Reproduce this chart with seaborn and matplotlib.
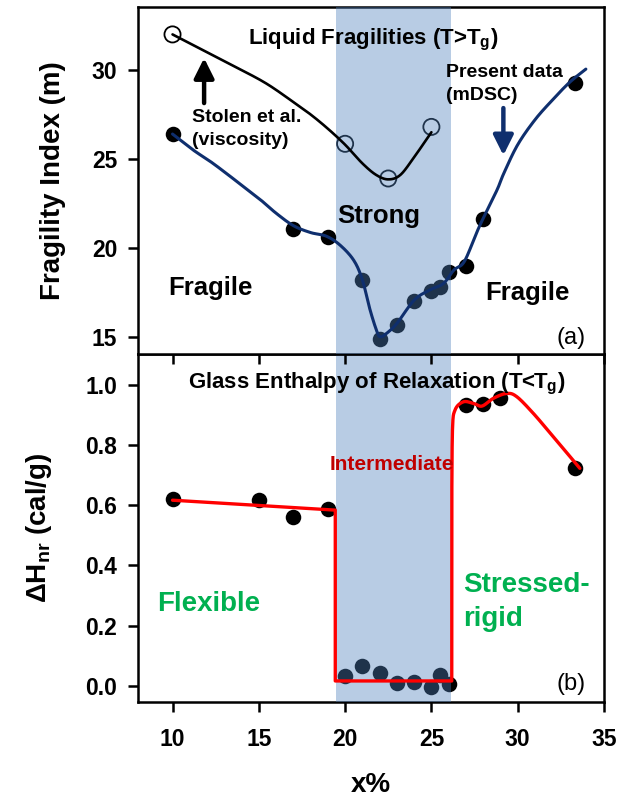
"""
Fragility index and non-reversing enthalpy vs composition x%
two stacked panels sharing the x axis, intermediate phase shaded
"""

import numpy as np
import matplotlib
matplotlib.use('Agg')
import matplotlib.pyplot as plt
import seaborn as sns

# ---- data ----
# (a) fragility index m, present mDSC data
frag_x = [10, 17, 19, 21, 22, 23, 24, 25, 25.5, 26, 27, 28, 33.3]
frag_m = [26.4, 21.05, 20.6, 18.2, 14.9, 15.65, 17.0, 17.6, 17.8, 18.65, 19.0, 21.65, 29.25]

# (a) Stolen et al. viscosity data
stolen_x = [10, 20, 22.5, 25]
stolen_m = [32.0, 25.85, 23.9, 26.8]

# guide curves drawn through the data
frag_fit_x = [10, 11.2, 12.2, 13.1, 14.1, 15.1, 16.0, 17.0, 18.0, 18.9, 19.7, 20.5, 21.0,
              21.45, 21.85, 22.05, 22.4, 23.0, 24.0, 24.9, 25.7, 26.3, 26.9, 27.6, 28.0,
              28.8, 29.2, 30.0, 31.0, 32.0, 33.0, 33.95]
frag_fit_m = [26.4, 25.5, 24.85, 24.2, 23.45, 22.7, 21.95, 21.25, 20.86, 20.66, 20.16,
              19.3, 18.2, 16.5, 15.28, 15.0, 15.19, 15.75, 17.06, 17.63, 18.0, 18.75,
              19.22, 20.81, 21.66, 23.25, 24.2, 25.8, 27.2, 28.3, 29.3, 30.05]
stolen_fit_x = [10, 12, 14, 15.5, 17, 18, 19, 20, 21, 21.8, 22.5, 23.2, 24, 25]
stolen_fit_m = [32.0, 31.0, 30.0, 29.2, 28.2, 27.5, 26.7, 25.8, 24.75, 24.1, 23.85,
                24.1, 25.1, 26.5]

# (b) non-reversing enthalpy of relaxation
dh_x = [10, 15, 17, 19, 20, 21, 22, 23, 24, 25, 25.5, 26, 27, 28, 29, 33.3]
dh = [0.62, 0.618, 0.56, 0.587, 0.032, 0.065, 0.044, 0.01, 0.013, -0.003, 0.035, 0.006,
      0.933, 0.936, 0.956, 0.725]

# red guide line: square well, then rounded top in the stressed-rigid phase
dh_fit_x = [10, 19.43, 19.43, 26.18, 26.18, 26.22, 26.37, 26.85, 27.43, 27.93, 28.6,
            29.37, 29.95, 30.9, 31.9, 32.87, 33.6]
dh_fit = [0.617, 0.584, 0.016, 0.016, 0.6, 0.85, 0.917, 0.944, 0.939, 0.930, 0.956,
          0.972, 0.961, 0.906, 0.839, 0.773, 0.723]
n_straight = 5  # first knots of the red line are joined by straight segments

ip_window = (19.5, 26.15)  # intermediate phase (shaded)


def catmull_rom(xs, ys, n=20):
    """smooth a polyline through its knots (uniform Catmull-Rom)"""
    pts = np.column_stack([xs, ys]).astype(float)
    pts = np.vstack([pts[0], pts, pts[-1]])
    t = np.linspace(0, 1, n, endpoint=False)[:, None]
    segs = []
    for i in range(1, len(pts) - 2):
        p0, p1, p2, p3 = pts[i - 1], pts[i], pts[i + 1], pts[i + 2]
        segs.append(0.5 * (2 * p1 + (-p0 + p2) * t
                           + (2 * p0 - 5 * p1 + 4 * p2 - p3) * t ** 2
                           + (-p0 + 3 * p1 - 3 * p2 + p3) * t ** 3))
    segs.append(pts[-2][None, :])
    out = np.vstack(segs)
    return out[:, 0], out[:, 1]


sns.set_theme(style='ticks')
plt.rcParams['font.family'] = ['Liberation Sans', 'DejaVu Sans']
plt.rcParams['font.weight'] = 'bold'
plt.rcParams['mathtext.fontset'] = 'custom'
plt.rcParams['mathtext.rm'] = 'Liberation Sans:bold'
plt.rcParams['mathtext.default'] = 'rm'
for key in ('text.color', 'axes.labelcolor', 'xtick.color', 'ytick.color'):
    plt.rcParams[key] = 'black'

SHADE = '#4f81bd'
NAVY = '#0f2f6e'
GREEN = '#00b050'

fig = plt.figure(figsize=(6.31, 7.99), dpi=100)
ax1 = fig.add_axes([0.2187, 0.5569, 0.7385, 0.4343])
ax2 = fig.add_axes([0.2187, 0.1214, 0.7385, 0.4355])
ax1.set_zorder(3)

for ax in (ax1, ax2):
    ax.axvspan(*ip_window, color=SHADE, alpha=0.4, lw=0, zorder=3)
    ax.set_xlim(8, 35)
    ax.set_xticks([10, 15, 20, 25, 30, 35])
    for sp in ax.spines.values():
        sp.set_linewidth(1.8)
        sp.set_color('black')
    ax.tick_params(direction='out', length=7, width=1.8, color='black',
                   labelsize=16.5, pad=8, top=False, right=False)

# ---- (a) liquid fragilities ----
sns.scatterplot(x=frag_x, y=frag_m, ax=ax1, color='black', s=125, linewidth=0, zorder=2)
sns.scatterplot(x=stolen_x, y=stolen_m, ax=ax1, marker='o', s=135,
                facecolor='none', edgecolor='black', linewidth=1.3, zorder=2)
fx, fy = catmull_rom(frag_fit_x, frag_fit_m)
sns.lineplot(x=fx, y=fy, ax=ax1, sort=False, estimator=None, color=NAVY, lw=2.2, zorder=4)
sx, sy = catmull_rom(stolen_fit_x, stolen_fit_m)
sns.lineplot(x=sx, y=sy, ax=ax1, sort=False, estimator=None, color='black', lw=1.9, zorder=4)

ax1.set_ylim(14.03, 33.54)
ax1.set_yticks([15, 20, 25, 30])
ax1.tick_params(axis='x', labelbottom=False)
ax1.set_ylabel('Fragility Index (m)', fontsize=20, fontweight='bold')
ax1.yaxis.set_label_coords(-0.155, 0.5)

ax1.text(14.38, 31.45, 'Liquid Fragilities (T>T$_g$)', fontsize=16, va='baseline', zorder=5)
ax1.text(11.11, 27.09, 'Stolen et al.', fontsize=14, va='baseline', zorder=5)
ax1.text(11.11, 25.78, '(viscosity)', fontsize=14, va='baseline', zorder=5)
ax1.text(25.87, 29.59, 'Present data', fontsize=14, va='baseline', zorder=5)
ax1.text(25.87, 28.31, '(mDSC)', fontsize=14, va='baseline', zorder=5)
ax1.text(19.52, 21.38, 'Strong', fontsize=18.5, va='baseline', zorder=5)
ax1.text(9.76, 17.35, 'Fragile', fontsize=18.5, va='baseline', zorder=5)
ax1.text(28.13, 17.06, 'Fragile', fontsize=18.5, va='baseline', zorder=5)
ax1.text(33.93, 14.6, '(a)', fontsize=17, fontweight='normal', ha='right',
         va='baseline', zorder=5)

arrow = dict(arrowstyle='-|>,head_length=0.6,head_width=0.3', lw=3.2,
             mutation_scale=20, shrinkA=0, shrinkB=0)
ax1.annotate('', xy=(11.83, 30.67), xytext=(11.83, 28.14),
             arrowprops=dict(arrow, color='black'), zorder=5)
ax1.annotate('', xy=(29.17, 25.2), xytext=(29.17, 27.86),
             arrowprops=dict(arrow, color=NAVY), zorder=5)

# ---- (b) enthalpy of relaxation ----
sns.scatterplot(x=dh_x, y=dh, ax=ax2, color='black', s=125, linewidth=0, zorder=2)
rx = list(dh_fit_x[:n_straight])
ry = list(dh_fit[:n_straight])
cx, cy = catmull_rom(dh_fit_x[n_straight - 1:], dh_fit[n_straight - 1:])
rx += list(cx[1:])
ry += list(cy[1:])
sns.lineplot(x=rx, y=ry, ax=ax2, sort=False, estimator=None, color='#ff0000', lw=2.4, zorder=4)

ax2.set_ylim(-0.054, 1.103)
ax2.set_yticks([0.0, 0.2, 0.4, 0.6, 0.8, 1.0])
ax2.set_yticklabels(['0.0', '0.2', '0.4', '0.6', '0.8', '1.0'])
ax2.tick_params(axis='x', pad=12)
ax2.set_ylabel('ΔH$_{nr}$ (cal/g)', fontsize=20, fontweight='bold')
ax2.yaxis.set_label_coords(-0.18, 0.5)
ax2.set_xlabel('x%', fontsize=20, fontweight='bold')
ax2.xaxis.set_label_coords(0.5, -0.2)

ax2.text(10.92, 0.989, 'Glass Enthalpy of Relaxation (T<T$_g$)', fontsize=16,
         va='baseline', zorder=5)
ax2.text(19.1, 0.717, 'Intermediate', fontsize=15, color='#c00000', va='baseline', zorder=5)
ax2.text(9.08, 0.249, 'Flexible', fontsize=20, color=GREEN, va='baseline', zorder=5)
ax2.text(26.83, 0.312, 'Stressed-', fontsize=20, color=GREEN, va='baseline', zorder=5)
ax2.text(26.83, 0.198, 'rigid', fontsize=20, color=GREEN, va='baseline', zorder=5)
ax2.text(33.93, -0.015, '(b)', fontsize=17, fontweight='normal', ha='right',
         va='baseline', zorder=5)

fig.savefig('out.png', dpi=100)
plt.close(fig)
